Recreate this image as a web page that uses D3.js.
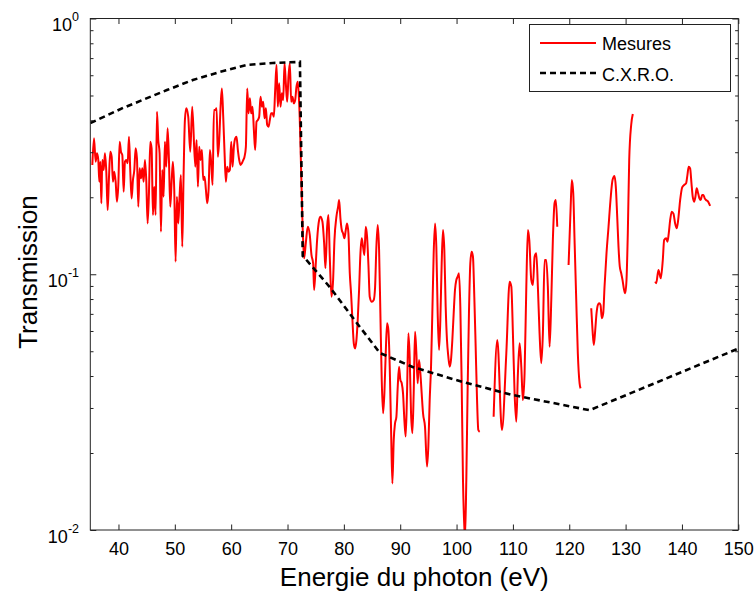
<!DOCTYPE html>
<html><head><meta charset="utf-8">
<script src="https://cdn.jsdelivr.net/npm/d3@7"></script>
<style>
body{margin:0;background:#fff}
svg{display:block}
text{font-family:"Liberation Sans",Arial,Helvetica,sans-serif;fill:#000}
</style>
</head><body>
<svg id="chart" width="756" height="596"></svg>
<script>
// ---------------- data ----------------
const xTicks = [40, 50, 60, 70, 80, 90, 100, 110, 120, 130, 140, 150];
const yTickExponents = [0, -1, -2];
const legendLabels = ["Mesures", "C.X.R.O."];
const xLabel = "Energie du photon (eV)";
const yLabel = "Transmission";

const cxroEnergy = [35, 40.8, 48.6, 53.2, 58.0, 62.8, 67.4, 71.8, 72.2, 72.7, 73.1, 77.5, 82.3, 86.4, 92.2, 101.1, 110.0, 123.6, 150];
const cxroTransmission = [0.390, 0.447, 0.525, 0.575, 0.618, 0.658, 0.670, 0.676, 0.678, 0.118, 0.1155, 0.0891, 0.0645, 0.0492, 0.0434, 0.0379, 0.0337, 0.0294, 0.0512];

// null marks a gap between measured segments
const mesuresEnergy = [
35.36,35.66,35.95,36.19,36.42,36.6,36.78,36.96,37.13,37.37,37.6,37.84,38.08,38.32,38.55,38.79,39.02,39.26,39.5,39.73,39.97,
40.21,40.44,40.68,40.92,41.15,41.39,41.63,41.86,42.1,42.33,42.57,42.81,43.04,43.28,43.52,43.75,43.99,44.23,44.46,44.7,44.93,
45.17,45.41,45.64,45.88,46.12,46.35,46.59,46.83,47.06,47.3,47.54,47.77,48.01,48.24,48.48,48.72,48.95,49.19,49.43,49.66,49.9,
50.14,50.37,50.61,50.84,51.08,51.32,51.55,51.79,52.03,52.38,52.74,53.09,53.63,53.86,54.1,54.33,54.57,54.81,55.04,55.28,55.52,
55.75,55.99,56.23,56.46,56.7,56.94,57.17,57.41,57.64,57.88,58.12,58.35,58.59,58.83,59.06,59.3,59.54,59.77,60.01,60.25,60.48,
60.72,60.95,61.19,61.43,61.66,61.9,62.14,62.37,62.61,62.85,63.08,63.32,63.55,63.79,64.03,64.26,64.5,64.74,64.97,65.21,65.45,
65.68,65.92,66.16,66.39,66.63,66.86,67.1,67.34,67.57,67.81,68.05,68.28,68.52,68.76,68.99,69.23,69.47,69.7,69.94,70.17,70.41,
70.65,70.88,71.12,71.36,71.59,71.83,72.07,
72.77,72.95,73.24,73.6,73.95,74.25,74.55,74.72,75.02,75.25,75.61,75.85,76.2,76.5,76.73,77.03,77.26,77.5,77.8,78.09,78.33,
78.68,78.98,79.16,79.39,79.63,79.86,80.1,80.34,80.57,80.81,81.05,81.28,81.52,81.76,81.99,82.23,82.46,82.7,82.94,83.17,83.41,
83.65,83.88,84.12,84.36,84.59,84.95,85.3,85.54,85.77,86.01,86.25,86.48,86.72,86.96,87.19,87.43,87.67,87.9,88.14,88.38,88.61,
88.85,89.08,89.32,89.56,89.79,90.03,90.27,90.5,90.74,90.97,91.21,91.45,91.68,91.92,92.16,92.39,92.63,92.87,93.1,93.34,93.58,
93.81,94.05,94.4,94.76,94.99,95.23,95.47,95.7,95.94,96.18,96.41,96.65,96.89,97.12,97.36,97.59,97.83,98.07,98.3,98.54,98.78,
99.01,99.25,99.49,99.72,99.96,100.2,100.43,100.67,100.9,101.14,101.38,101.5,101.73,101.97,102.2,102.44,102.68,102.91,103.15,
103.39,103.62,103.86,104.1,
null,
106.58,107.23,108.05,108.83,109.42,109.72,110.0,110.3,110.6,110.89,111.19,111.49,111.77,112.07,112.38,112.66,112.91,113.26,
113.55,113.85,114.15,114.43,114.73,115.03,115.32,115.62,115.92,116.2,116.51,116.81,117.09,117.39,117.62,117.87,
null,
119.88,120.23,120.46,120.71,120.94,121.24,121.52,121.83,122.0,
null,
123.9,124.13,124.36,124.61,124.84,125.07,125.32,125.55,125.78,126.03,126.26,126.61,126.97,127.32,127.68,128.03,128.26,128.51,
128.74,128.97,129.22,129.45,129.68,129.93,130.16,130.39,130.64,130.99,131.28,
null,
135.25,135.43,135.83,136.24,136.6,136.84,137.2,137.43,137.66,137.91,138.19,138.49,138.79,139.08,139.33,139.68,140.04,140.39,
140.74,140.97,141.2,141.45,141.69,141.91,142.16,142.39,142.62,142.87,143.1,143.33,143.58,143.81,144.04,144.28,144.64,145.0
];
const mesuresTransmission = [
0.2675,0.340,0.2755,0.297,0.2797,0.230,0.2755,0.1894,0.2797,0.2557,0.297,0.2518,0.1784,0.2407,0.3014,0.2882,0.230,0.2518,0.230,0.1922,0.2234,
0.330,0.3014,0.2926,0.2103,0.2755,0.2797,0.2716,0.345,0.2518,0.198,0.2336,0.2557,0.3107,0.284,0.1837,0.2596,0.2371,0.2596,0.230,0.2797,0.2336,
0.158,0.2073,0.330,0.3107,0.1705,0.22,0.1705,0.432,0.335,0.297,0.1467,0.2557,0.201,0.330,0.2634,0.372,0.284,0.1837,0.230,0.2755,0.2135,
0.112,0.201,0.158,0.201,0.2443,0.1282,0.2407,0.401,0.4455,0.413,0.3014,0.452,0.2634,0.335,0.22,0.315,0.2797,0.306,0.2336,0.2407,0.2135,
0.1894,0.2135,0.306,0.2716,0.2234,0.4386,0.4386,0.4455,0.2882,0.335,0.452,0.533,0.413,0.297,0.230,0.2634,0.2518,0.2557,0.330,0.2634,0.315,
0.340,0.345,0.306,0.2797,0.2675,0.2716,0.2797,0.2882,0.315,0.533,0.4257,0.4875,0.4257,0.452,0.3665,0.306,0.395,0.401,0.413,0.4945,0.452,
0.4727,0.4072,0.4455,0.3834,0.3775,0.401,0.4257,0.4257,0.413,0.5254,0.658,0.452,0.5578,0.452,0.5098,0.480,0.668,0.5578,0.4727,0.5925,0.668,
0.4727,0.4945,0.4658,0.480,0.5414,0.566,0.4658,
0.136,0.1155,0.132,0.1534,0.1424,0.119,0.1104,0.0868,0.1104,0.136,0.163,0.168,0.1605,0.132,0.1055,0.1534,0.1705,0.1171,0.0817,0.095,0.136,
0.168,0.1837,0.1951,0.1655,0.149,0.1445,0.1382,0.149,0.158,0.1445,0.1009,0.0842,0.0662,0.0537,0.0513,0.0553,0.0662,0.0868,0.1208,0.1382,0.128,
0.119,0.1534,0.140,0.1087,0.0817,0.0781,0.0793,0.089,0.128,0.1558,0.1244,0.0704,0.0386,0.0286,0.0342,0.0491,0.0643,0.0605,0.0435,0.0246,0.0152,
0.0225,0.0261,0.0277,0.0363,0.0435,0.0386,0.0375,0.0342,0.0269,0.0232,0.0342,0.0588,0.0476,0.0286,0.0239,0.0342,0.0596,0.0491,0.0375,0.0462,0.041,
0.0342,0.0286,0.0253,0.0177,0.0212,0.0322,0.0435,0.0704,0.1208,0.158,0.128,0.0704,0.0506,0.0662,0.1104,0.149,0.1244,0.0746,0.0553,0.0476,0.0435,
0.0462,0.0553,0.0704,0.0868,0.095,0.0978,0.1009,0.0746,0.0386,0.0157,0.0103,0.0093,0.0157,0.0363,0.0704,0.1104,0.1225,0.1171,0.0817,
0.0521,0.0332,0.0246,0.0242,
null,
0.0277,0.0553,0.0246,0.0491,0.0935,0.0894,0.0588,0.0342,0.0265,0.041,0.0537,0.0435,0.0322,0.041,0.0894,0.149,0.136,0.095,
0.0908,0.1171,0.1208,0.0894,0.0588,0.0449,0.0588,0.1137,0.1137,0.0894,0.0521,0.0793,0.136,0.1894,0.1951,0.1534,
null,
0.1087,0.1784,0.2336,0.2073,0.136,0.0793,0.0491,0.0375,0.0358,
null,
0.0736,0.0605,0.0529,0.0605,0.0704,0.0758,0.077,0.0758,0.0673,0.0704,0.0894,0.1208,0.1534,0.1951,0.2336,0.2422,0.22,0.168,
0.128,0.107,0.1009,0.095,0.0881,0.0842,0.095,0.1445,0.2797,0.3834,0.423,
null,
0.0935,0.0922,0.1039,0.0964,0.1137,0.136,0.1382,0.134,0.1445,0.163,0.1757,0.1727,0.158,0.1512,0.163,0.1951,0.2188,0.2234,
0.2268,0.2443,0.2634,0.2596,0.2268,0.201,0.1922,0.201,0.2168,0.2073,0.198,0.1951,0.2041,0.2041,0.198,0.1951,0.1922,0.1849
];

// ---------------- layout ----------------
const W = 756, H = 596;
const L = 90.3, R = 738.3, T = 18.5, B = 530;

const svg = d3.select("#chart");
const x = d3.scaleLinear().domain([35, 150]).range([L, R]);
const y = d3.scaleLog().domain([0.01, 1]).range([B, T]);

const majorY = yTickExponents.map(e => Math.pow(10, e));
const minorY = [];
[-2, -1].forEach(e => { for (let k = 2; k <= 9; k++) minorY.push(k * Math.pow(10, e)); });

const mesures = mesuresEnergy.map((e, i) => ({e, t: mesuresTransmission[i]}));
const cxro = cxroEnergy.map((e, i) => ({e, t: cxroTransmission[i]}));

// clip
svg.append("defs").append("clipPath").attr("id", "clip")
  .append("rect").attr("x", L).attr("y", T).attr("width", R - L).attr("height", B - T);

// data lines
const plot = svg.append("g").attr("clip-path", "url(#clip)");
plot.append("path")
  .datum(mesures)
  .attr("fill", "none").attr("stroke", "#ff0000").attr("stroke-width", 2)
  .attr("stroke-linejoin", "round")
  .attr("d", d3.line().defined(d => d.e != null && d.t != null)
    .x(d => x(d.e)).y(d => y(d.t)).curve(d3.curveMonotoneX));

plot.append("path")
  .datum(cxro)
  .attr("fill", "none").attr("stroke", "#000").attr("stroke-width", 2.6)
  .attr("stroke-dasharray", "6,4")
  .attr("d", d3.line().x(d => x(d.e)).y(d => y(d.t)));

// axes
function styleAxis(g) {
  g.select(".domain").remove();
  g.selectAll(".tick line").attr("stroke", "#222").attr("stroke-width", 1);
}
const xb = svg.append("g").attr("transform", `translate(0,${B})`)
  .call(d3.axisBottom(x).tickValues(xTicks).tickSizeInner(-5.5).tickSizeOuter(0).tickPadding(12).tickFormat(d3.format("d")));
styleAxis(xb);
xb.selectAll(".tick text").attr("font-size", 18).attr("font-family", "Liberation Sans, Arial, sans-serif").attr("fill", "#000");

const xt = svg.append("g").attr("transform", `translate(0,${T})`)
  .call(d3.axisTop(x).tickValues(xTicks).tickSizeInner(-5.5).tickSizeOuter(0).tickFormat(""));
styleAxis(xt);

[[d3.axisLeft, L, -6], [d3.axisRight, R, -6]].forEach(([ax, pos, s]) => {
  const gM = svg.append("g").attr("transform", `translate(${pos},0)`)
    .call(ax(y).tickValues(majorY).tickSizeInner(s).tickSizeOuter(0).tickFormat(""));
  styleAxis(gM);
  const gm = svg.append("g").attr("transform", `translate(${pos},0)`)
    .call(ax(y).tickValues(minorY).tickSizeInner(-3.2).tickSizeOuter(0).tickFormat(""));
  styleAxis(gm);
});

// frame
svg.append("rect").attr("x", L).attr("y", T).attr("width", R - L).attr("height", B - T)
  .attr("fill", "none").attr("stroke", "#222").attr("stroke-width", 1);

// y tick labels 10^n
yTickExponents.forEach(e => {
  const yy = y(Math.pow(10, e));
  const t = svg.append("text").attr("x", 79).attr("y", yy + 12.5).attr("text-anchor", "end").attr("font-size", 18);
  t.append("tspan").text("10");
  t.append("tspan").attr("dy", -10).attr("font-size", 12.5).text(e === 0 ? "0" : "-" + Math.abs(e));
});

// axis titles
svg.append("text").attr("x", (L + R) / 2 + 0).attr("y", 586).attr("text-anchor", "middle")
  .attr("font-size", 26).text(xLabel);
svg.append("text").attr("transform", "translate(37,272) rotate(-90)").attr("text-anchor", "middle")
  .attr("font-size", 26).text(yLabel);

// legend
const lg = svg.append("g");
lg.append("rect").attr("x", 529.5).attr("y", 24.5).attr("width", 201).attr("height", 67)
  .attr("fill", "#fff").attr("stroke", "#222").attr("stroke-width", 1);
lg.append("line").attr("x1", 540).attr("x2", 596).attr("y1", 43).attr("y2", 43)
  .attr("stroke", "#ff0000").attr("stroke-width", 2.2);
lg.append("line").attr("x1", 540).attr("x2", 596).attr("y1", 73).attr("y2", 73)
  .attr("stroke", "#000").attr("stroke-width", 2.6).attr("stroke-dasharray", "6,4");
lg.append("text").attr("x", 602).attr("y", 50).attr("font-size", 18).text(legendLabels[0]);
lg.append("text").attr("x", 602).attr("y", 80.5).attr("font-size", 18).text(legendLabels[1]);
</script>
</body></html>
